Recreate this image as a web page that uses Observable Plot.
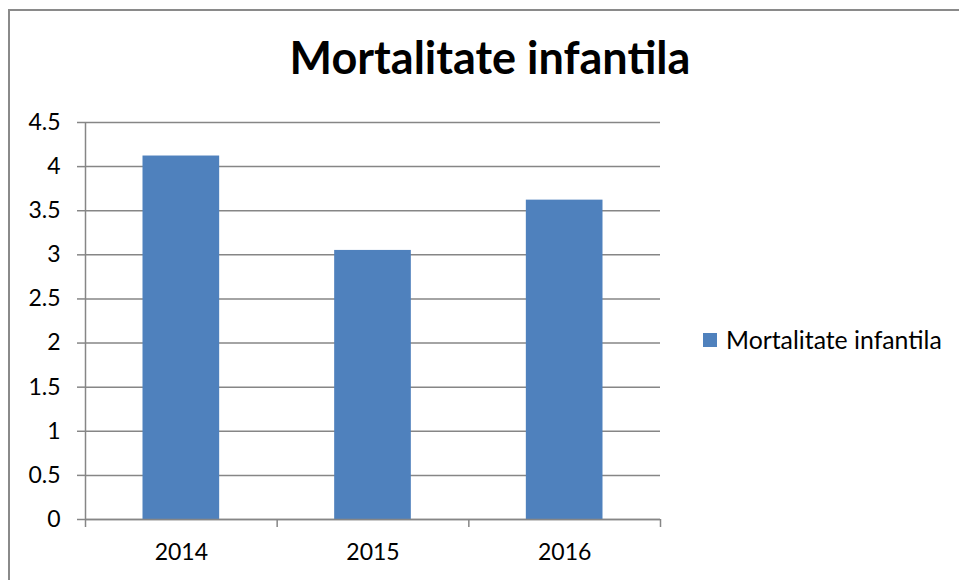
<!DOCTYPE html>
<html>
<head>
<meta charset="utf-8">
<script src="https://cdn.jsdelivr.net/npm/d3@7"></script>
<script src="https://cdn.jsdelivr.net/npm/@observablehq/plot@0.6"></script>
<style>
  html, body { margin: 0; padding: 0; background: #fff; }
  #wrap { position: relative; width: 959px; height: 580px; overflow: hidden; font-family: Lato, "Open Sans", sans-serif; }
  #frame { position: absolute; left: 8px; top: 9px; width: 1000px; height: 700px; border: 2px solid #8a8a8a; box-sizing: border-box; }
  #title { position: absolute; left: 0; width: 980px; top: 30px; text-align: center; font-size: 45px; font-weight: bold; color: #000; line-height: 1.2; }
  #chart { position: absolute; left: 0; top: 0; }
  #legend { position: absolute; left: 703px; top: 325px; display: flex; align-items: center; font-size: 24.8px; color: #000; line-height: 30px; }
  #legend .sw { width: 14px; height: 14px; margin-right: 9px; }
</style>
</head>
<body>
<div id="wrap">
  <div id="frame"></div>
  <div id="chart"></div>
  <div id="title"></div>
  <div id="legend"></div>
</div>
<script>
const title = "Mortalitate infantila";
const seriesName = "Mortalitate infantila";
const years = ["2014", "2015", "2016"];
const values = [4.12, 3.05, 3.62];
const yTicks = [0, 0.5, 1, 1.5, 2, 2.5, 3, 3.5, 4, 4.5];
const barColor = "#4f81bd";
const gridColor = "#868686";

const data = years.map((year, i) => ({year, i, value: values[i]}));
const boundaries = d3.range(years.length + 1);

document.getElementById("title").textContent = title;
document.getElementById("legend").innerHTML =
  `<div class="sw" style="background:${barColor}"></div><span>${seriesName}</span>`;

const plot = Plot.plot({
  width: 959,
  height: 580,
  marginTop: 122,
  marginBottom: 61,
  marginLeft: 85,
  marginRight: 299,
  style: {fontFamily: "Lato, 'Open Sans', sans-serif", fontSize: "23px", color: "#000", background: "transparent"},
  x: {domain: [0, years.length], axis: null},
  y: {domain: [0, 4.5], axis: null},
  marks: [
    Plot.ruleY(yTicks, {stroke: gridColor, strokeWidth: 1.5}),
    Plot.rectY(data, {x1: d => d.i + 0.3, x2: d => d.i + 0.7, y1: 0, y2: "value", fill: barColor}),
    Plot.ruleX([0], {stroke: gridColor, strokeWidth: 1.5}),
    Plot.ruleY([0], {stroke: gridColor, strokeWidth: 1.5}),
    Plot.axisY({ticks: yTicks, tickSize: 8, tickPadding: 17, label: null, stroke: gridColor, strokeWidth: 1.5, tickFormat: d => String(d), fill: "#000"}),
    Plot.axisX({ticks: boundaries, tickSize: 8, label: null, tickFormat: () => "", stroke: gridColor, strokeWidth: 1.5}),
    Plot.axisX({ticks: years.map((y, i) => i + 0.5), tickSize: 0, tickPadding: 24, label: null, tickFormat: d => years[Math.floor(d)], fill: "#000"})
  ]
});
document.getElementById("chart").appendChild(plot);
</script>
</body>
</html>
